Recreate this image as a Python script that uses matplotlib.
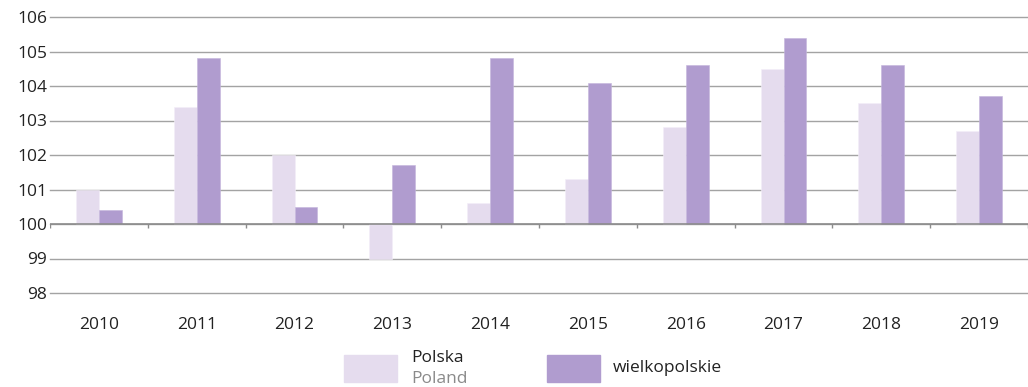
import matplotlib.pyplot as plt
import numpy as np

plt.rcParams['font.family'] = ['Open Sans', 'DejaVu Sans']

years = ['2010', '2011', '2012', '2013', '2014', '2015', '2016', '2017', '2018', '2019']
polska = [101.0, 103.4, 102.0, 99.0, 100.6, 101.3, 102.8, 104.5, 103.5, 102.7]
wielkopolskie = [100.4, 104.8, 100.5, 101.7, 104.8, 104.1, 104.6, 105.4, 104.6, 103.7]

base = 100
c_pl = '#e5dcee'
c_wlkp = '#b09ccf'

fig = plt.figure(figsize=(10.28, 3.87), dpi=100)
ax = fig.add_axes([50 / 1028, 1 - 293 / 387, 1 - 50 / 1028, (293 - 17) / 387])

x = np.arange(len(years))
w = 0.235
ax.bar(x - w / 2, np.array(polska) - base, w, bottom=base, color=c_pl,
       edgecolor='#f3eef8', linewidth=0.4, zorder=3)
ax.bar(x + w / 2, np.array(wielkopolskie) - base, w, bottom=base, color=c_wlkp,
       edgecolor='#c4b5dc', linewidth=0.4, zorder=3)

ax.set_xlim(-0.5, len(years) - 0.5)
ax.set_ylim(98, 106)
ax.set_yticks(range(98, 107))
ax.yaxis.grid(True, color='#a3a3a3', linewidth=1.0, zorder=0)
for gl in ax.get_ygridlines():
    gl.set_clip_on(False)
ax.axhline(base, color='#8c8c8c', linewidth=1.2, zorder=4)
# small tick marks between years on the 100 line
ax.vlines(np.arange(len(years) + 1) - 0.5, base - 0.12, base, color='#8c8c8c',
          linewidth=1.0, zorder=4)

for s in ax.spines.values():
    s.set_visible(False)
ax.set_xticks(x)
ax.set_xticklabels(years)
ax.tick_params(axis='both', length=0, labelsize=12.5, colors='#222222')
ax.tick_params(axis='x', pad=17)
ax.tick_params(axis='y', pad=2)

# legend
fig.patches.append(plt.Rectangle((344 / 1028, 1 - 382 / 387), 53 / 1028, 27 / 387,
                                 transform=fig.transFigure, color=c_pl))
fig.patches.append(plt.Rectangle((547 / 1028, 1 - 382 / 387), 53 / 1028, 27 / 387,
                                 transform=fig.transFigure, color=c_wlkp))
fig.text(411 / 1028, 1 - 358 / 387, 'Polska', fontsize=12.5, color='#222222', va='center')
fig.text(411 / 1028, 1 - 379 / 387, 'Poland', fontsize=12.5, color='#8a8a8a', va='center')
fig.text(613 / 1028, 1 - 368 / 387, 'wielkopolskie', fontsize=12.5, color='#222222', va='center')

fig.savefig('out.png', dpi=100)
